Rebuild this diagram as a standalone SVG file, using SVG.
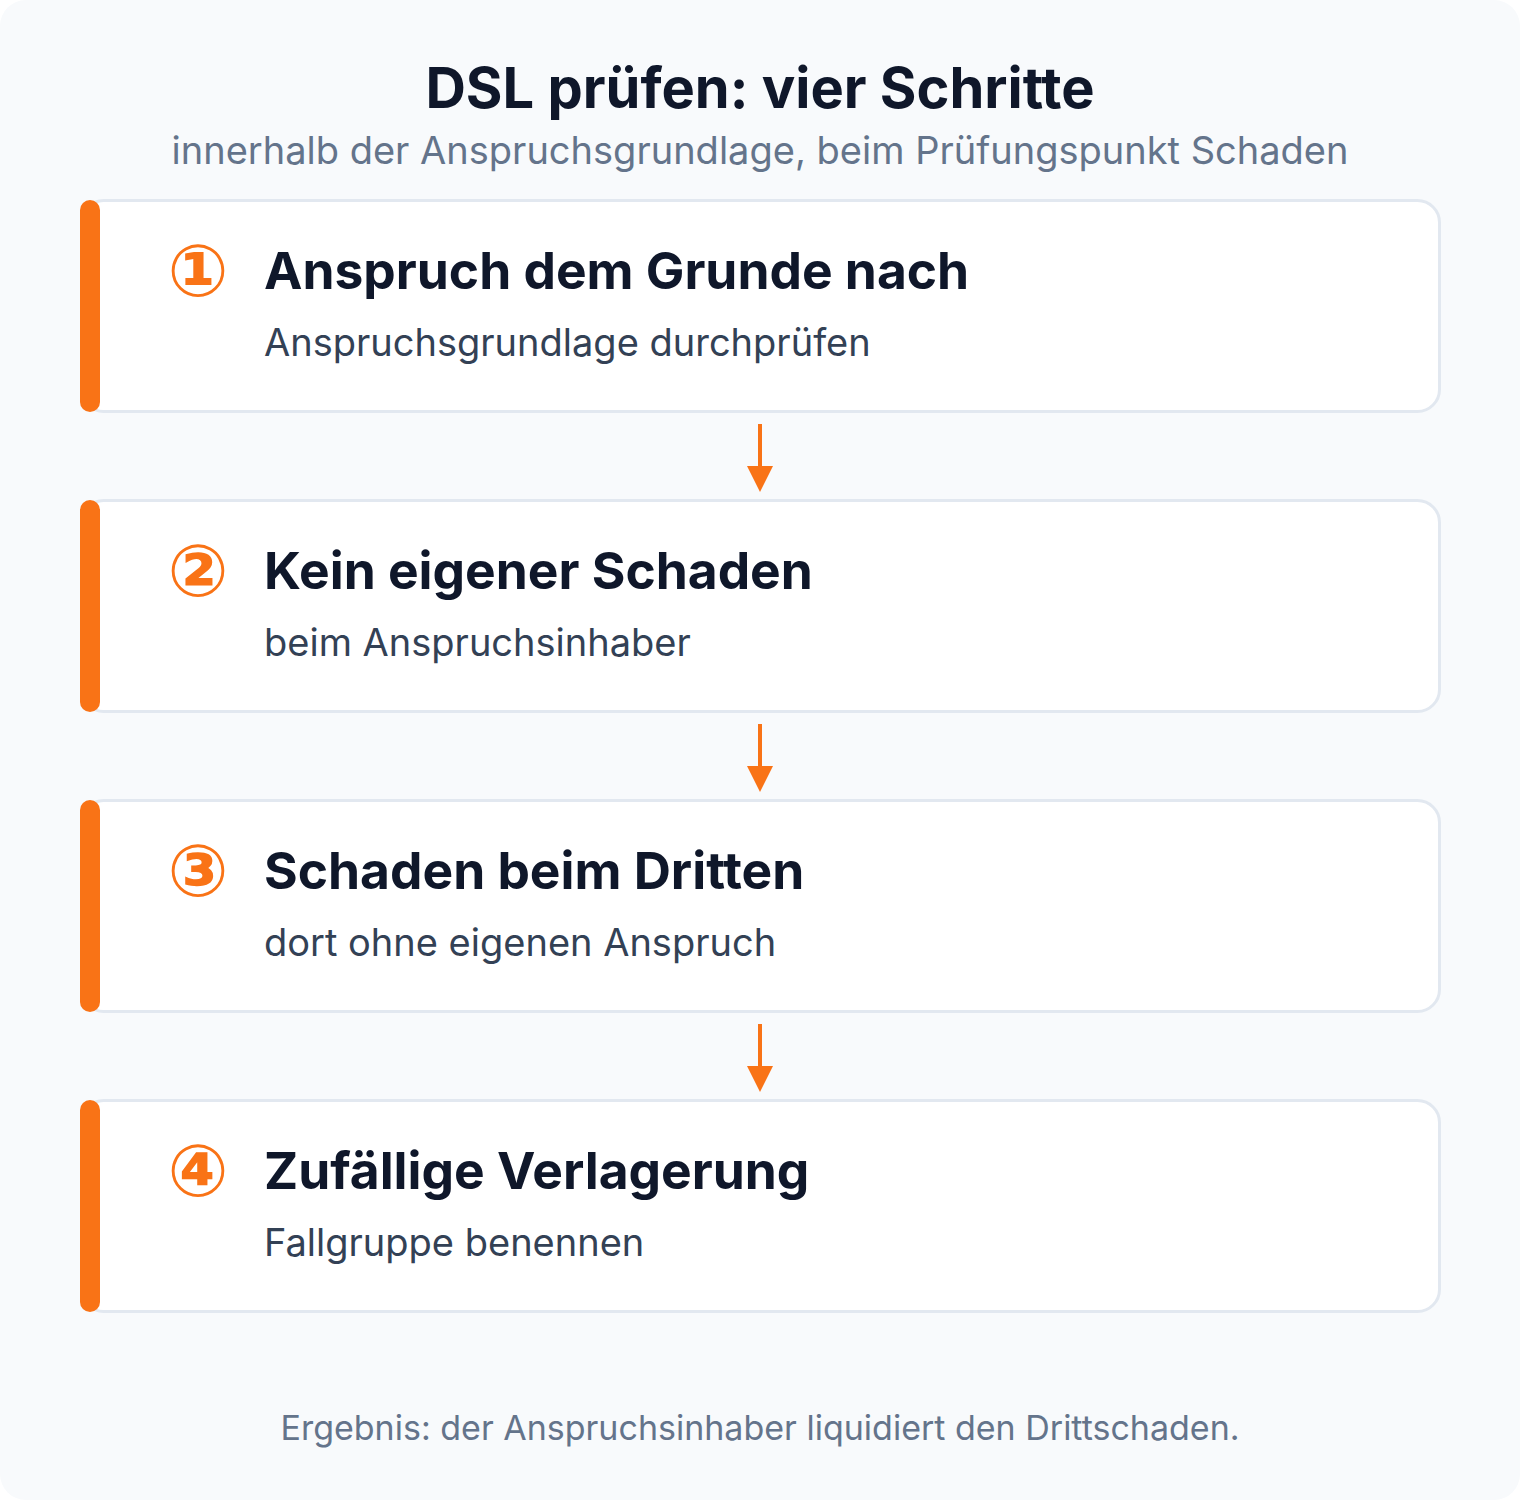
<svg xmlns="http://www.w3.org/2000/svg" width="1520" height="1500" viewBox="0 0 1520 1500">
<defs>
<style>
.title{font-family:Inter,"Noto Sans",sans-serif;font-weight:700;font-size:56px;fill:#0f172a;text-anchor:middle}
.sub{font-family:Inter,"Noto Sans",sans-serif;font-size:38px;fill:#64748b;text-anchor:middle}
.card{fill:#ffffff;stroke:#e2e8f0;stroke-width:3}
.bar{fill:#f97316}
.num{font-family:"DejaVu Sans",sans-serif;font-weight:700;font-size:72px;fill:#f97316;text-anchor:middle}
.ct{font-family:Inter,"Noto Sans",sans-serif;font-weight:700;font-size:51.5px;fill:#0f172a}
.cs{font-family:Inter,"Noto Sans",sans-serif;font-size:38px;fill:#334155}
.foot{font-family:Inter,"Noto Sans",sans-serif;font-size:34px;fill:#64748b;text-anchor:middle}
.conn{stroke:#f97316;stroke-width:4;fill:none}
.head{fill:#f97316}
</style>
</defs>
<rect x="0" y="0" width="1520" height="1500" fill="#ffffff"/>
<rect x="0" y="0" width="1520" height="1500" rx="26" fill="#f8fafc"/>
<text class="title" x="760" y="108">DSL prüfen: vier Schritte</text>
<text class="sub" x="760" y="164">innerhalb der Anspruchsgrundlage, beim Prüfungspunkt Schaden</text>

<g id="connectors">
<line class="conn" x1="760" y1="424" x2="760" y2="472"/>
<path class="head" d="M747,466 L773,466 L760,492 Z"/>
<line class="conn" x1="760" y1="724" x2="760" y2="772"/>
<path class="head" d="M747,766 L773,766 L760,792 Z"/>
<line class="conn" x1="760" y1="1024" x2="760" y2="1072"/>
<path class="head" d="M747,1066 L773,1066 L760,1092 Z"/>
</g>

<g id="step1">
<rect class="card" x="81.5" y="200.5" width="1358" height="211" rx="22"/>
<rect class="bar" x="80" y="200" width="20" height="212" rx="10"/>
<text class="num" x="198" y="296">①</text>
<text class="ct" x="264" y="289">Anspruch dem Grunde nach</text>
<text class="cs" x="264" y="356">Anspruchsgrundlage durchprüfen</text>
</g>
<g id="step2">
<rect class="card" x="81.5" y="500.5" width="1358" height="211" rx="22"/>
<rect class="bar" x="80" y="500" width="20" height="212" rx="10"/>
<text class="num" x="198" y="596">②</text>
<text class="ct" x="264" y="589">Kein eigener Schaden</text>
<text class="cs" x="264" y="656">beim Anspruchsinhaber</text>
</g>
<g id="step3">
<rect class="card" x="81.5" y="800.5" width="1358" height="211" rx="22"/>
<rect class="bar" x="80" y="800" width="20" height="212" rx="10"/>
<text class="num" x="198" y="896">③</text>
<text class="ct" x="264" y="889">Schaden beim Dritten</text>
<text class="cs" x="264" y="956">dort ohne eigenen Anspruch</text>
</g>
<g id="step4">
<rect class="card" x="81.5" y="1100.5" width="1358" height="211" rx="22"/>
<rect class="bar" x="80" y="1100" width="20" height="212" rx="10"/>
<text class="num" x="198" y="1196">④</text>
<text class="ct" x="264" y="1189">Zufällige Verlagerung</text>
<text class="cs" x="264" y="1256">Fallgruppe benennen</text>
</g>
<text class="foot" x="760" y="1440">Ergebnis: der Anspruchsinhaber liquidiert den Drittschaden.</text>
</svg>
